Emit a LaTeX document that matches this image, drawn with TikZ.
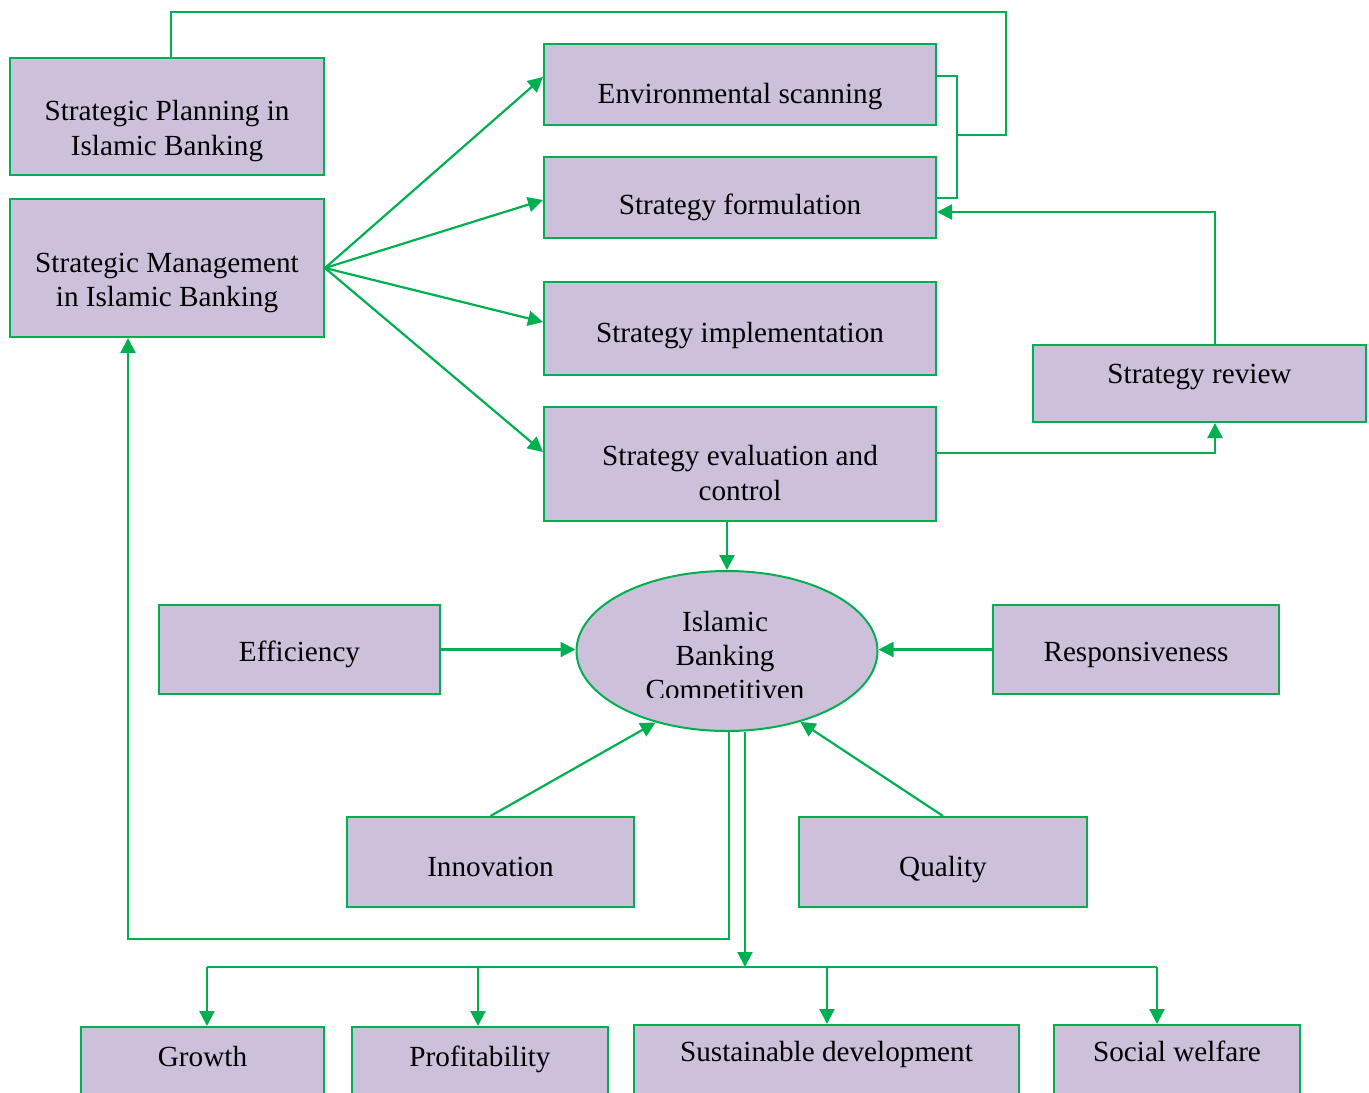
\documentclass[tikz,border=0pt]{standalone}
\usepackage{fontspec}
\setmainfont{Liberation Serif}
\usetikzlibrary{arrows.meta,shapes.geometric}
\definecolor{linegreen}{RGB}{0,176,80}
\definecolor{boxlilac}{RGB}{204,192,218}

\begin{document}
\begin{tikzpicture}[x=0.5pt,y=-0.5pt,
  blk/.style={draw=linegreen,fill=boxlilac,line width=1pt,inner sep=0pt,
    align=center,text depth=0pt,font=\fontsize{14.6}{17.3}\selectfont},
  link/.style={draw=linegreen,line width=1.1pt},
  arr/.style={link,-{Triangle[length=7.5pt,width=7.5pt]}}]
\clip (0,0) rectangle (1369,1092);
% left column
\node[blk,minimum width=157pt,minimum height=58.5pt,text height=38.5pt] (plan) at (167,116.5) {Strategic Planning in\\Islamic Banking};
\node[blk,minimum width=157pt,minimum height=69pt,text height=38.7pt] (mgmt) at (167,268) {Strategic Management\\in Islamic Banking};
% process steps
\node[blk,minimum width=196pt,minimum height=40.5pt,text height=18.8pt] (scan) at (740,84.5) {Environmental scanning};
\node[blk,minimum width=196pt,minimum height=40.5pt,text height=16.5pt] (form) at (740,197.5) {Strategy formulation};
\node[blk,minimum width=196pt,minimum height=46.5pt,text height=13.5pt] (impl) at (740,328.5) {Strategy implementation};
\node[blk,minimum width=196pt,minimum height=57pt,text height=36pt] (eval) at (740,464) {Strategy evaluation and\\control};
\node[blk,minimum width=166.5pt,minimum height=38.5pt,text height=0pt,text depth=0.5pt] (review) at (1199.5,383.5) {Strategy review};
% competitiveness and its drivers
\node[blk,ellipse,minimum width=150.5pt,minimum height=80pt] (comp) at (727,651) {};
\begin{scope}
\clip (560,560) rectangle (890,697);
\node[font=\fontsize{14.6}{17}\selectfont,align=center,anchor=base,inner sep=0pt] (comptxt) at (725,699) {Islamic\\Banking\\Competitiven};
\end{scope}
\node[blk,minimum width=140.5pt,minimum height=44.5pt,text height=12.2pt] (eff) at (299.5,649.5) {Efficiency};
\node[blk,minimum width=143pt,minimum height=44.5pt,text height=12.2pt] (resp) at (1136,649.5) {Responsiveness};
\node[blk,minimum width=143.5pt,minimum height=45pt,text height=14.7pt] (innov) at (490.5,862) {Innovation};
\node[blk,minimum width=144pt,minimum height=45pt,text height=14.7pt] (qual) at (943,862) {Quality};
% outcomes
\node[blk,minimum width=121.5pt,minimum height=33.5pt,text height=6pt] (growth) at (202.5,1060.5) {Growth};
\node[blk,minimum width=128pt,minimum height=33.5pt,text height=6pt] (profit) at (480,1060.5) {Profitability};
\node[blk,minimum width=192.5pt,minimum height=34.5pt,text height=2.2pt] (sustain) at (826.5,1059.5) {Sustainable development};
\node[blk,minimum width=123pt,minimum height=34.5pt,text height=2.2pt] (social) at (1177,1059.5) {Social welfare};

% planning loop and bracket
\coordinate (loop) at (1006,12);
\coordinate (joint) at (957,135);
\draw[link,line width=1pt] ([xshift=2pt]plan.north) |- (loop) |- (joint);
\draw[link,line width=1pt] ([yshift=4.25pt]scan.east) -| (joint) |- (form.east);
% management to the four steps
\draw[arr] (mgmt.east) -- ([yshift=3.75pt]scan.west);
\draw[arr] (mgmt.east) -- ([yshift=-1.25pt]form.west);
\draw[arr] (mgmt.east) -- ([yshift=3.25pt]impl.west);
\draw[arr] (mgmt.east) -- ([yshift=6pt]eval.west);
% review loop
\draw[arr] ([xshift=7.75pt]review.north) |- ([yshift=-7.25pt]form.east);
\draw[arr] ([yshift=5.5pt]eval.east) -| ([xshift=7.75pt]review.south);
% into the ellipse
\draw[arr] (eval.south -| comp.north) -- (comp.north);
\draw[arr] (eff) -- (eff -| comp.west);
\draw[arr] (resp) -- (resp -| comp.east);
\draw[arr] (innov.north) -- (comp.225);
\draw[arr] (qual.north) -- (comp.316);
% feedback to management
\coordinate (back) at (128,939);
\draw[arr] ([xshift=1pt]comp.south) |- (back) -- (back |- mgmt.south);
% down to the outcomes
\coordinate (bus) at (745,967);
\draw[arr] (bus |- comp.south) -- (bus);
\draw[link] (207,967) -- (1157,967);
\foreach \x/\n in {207/growth,478/profit,827/sustain,1157/social}{
  \coordinate (drop) at (\x,967);
  \draw[arr] (drop) -- (drop |- \n.north);
}
\end{tikzpicture}
\end{document}
